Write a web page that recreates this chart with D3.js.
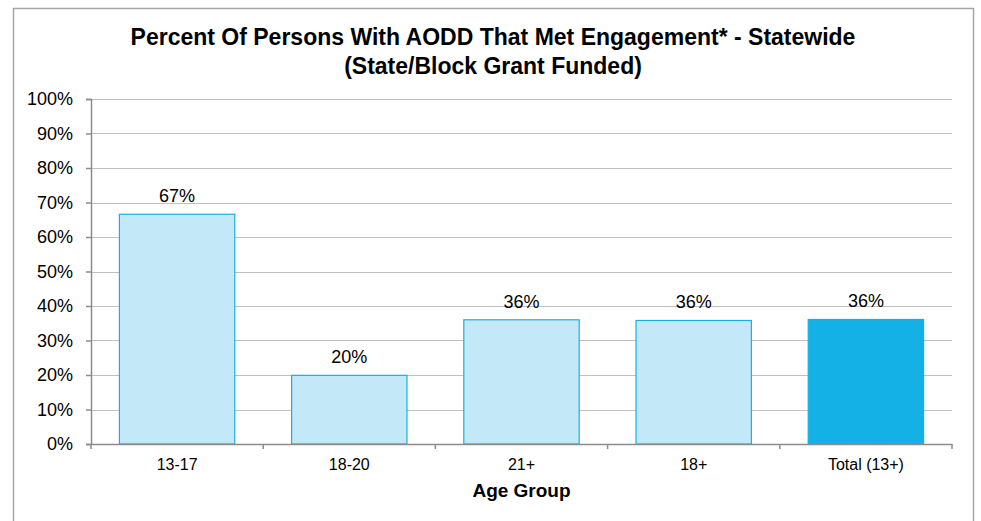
<!DOCTYPE html>
<html>
<head>
<meta charset="utf-8">
<script src="https://cdn.jsdelivr.net/npm/d3@7"></script>
<style>
  body { margin: 0; background: #fff; }
  text { font-family: "Liberation Sans", Arial, sans-serif; fill: #000; }
</style>
</head>
<body>
<svg id="chart" width="981" height="521"></svg>
<script>
var categories = ['13-17', '18-20', '21+', '18+', 'Total (13+)'];
var values = [66.6, 19.9, 36.0, 35.8, 36.1];
var valueLabels = ['67%', '20%', '36%', '36%', '36%'];
var yTicks = [0, 10, 20, 30, 40, 50, 60, 70, 80, 90, 100];

var svg = d3.select('#chart');

var margin = {left: 91, right: 29, top: 99, bottom: 77},
    width = 981 - margin.left - margin.right,
    height = 521 - margin.top - margin.bottom;

// outer frame
svg.append('rect')
    .attr('x', 13.5).attr('y', 8.5)
    .attr('width', 960).attr('height', 530)
    .attr('fill', 'none')
    .attr('stroke', '#a6a6a6')
    .attr('stroke-width', 1.5);

svg.append('text')
    .attr('x', 493).attr('y', 45)
    .attr('text-anchor', 'middle')
    .style('font-size', '23px').style('font-weight', 'bold')
    .text('Percent Of Persons With AODD That Met Engagement* - Statewide');
svg.append('text')
    .attr('x', 493).attr('y', 74)
    .attr('text-anchor', 'middle')
    .style('font-size', '23px').style('font-weight', 'bold')
    .text('(State/Block Grant Funded)');

var g = svg.append('g')
    .attr('transform', 'translate(' + margin.left + ',' + margin.top + ')');

var x = d3.scaleBand()
    .domain(categories)
    .range([0, width])
    .paddingInner(0.33)
    .paddingOuter(0.165);

var y = d3.scaleLinear()
    .domain([0, 100])
    .range([height, 0]);

// gridlines
g.selectAll('.grid')
    .data(yTicks.slice(1))
  .enter().append('line')
    .attr('x1', 0).attr('x2', width)
    .attr('y1', function(d) { return Math.round(y(d)) + 0.5; })
    .attr('y2', function(d) { return Math.round(y(d)) + 0.5; })
    .attr('stroke', '#c0c0c0')
    .attr('stroke-width', 1.2);

// bars
g.selectAll('.bar')
    .data(values)
  .enter().append('rect')
    .attr('x', function(d, i) { return x(categories[i]); })
    .attr('y', function(d) { return y(d); })
    .attr('width', x.bandwidth())
    .attr('height', function(d) { return height - y(d); })
    .attr('fill', function(d, i) { return i == 4 ? '#14b1e7' : '#c3e9f8'; })
    .attr('stroke', '#14b1e7')
    .attr('stroke-width', 1.2);

g.selectAll('.val')
    .data(values)
  .enter().append('text')
    .attr('x', function(d, i) { return x(categories[i]) + x.bandwidth() / 2; })
    .attr('y', function(d) { return y(d) - 12; })
    .attr('text-anchor', 'middle')
    .style('font-size', '18px')
    .text(function(d, i) { return valueLabels[i]; });

// y axis
var yAxis = g.append('g')
    .call(d3.axisLeft(y).tickValues(yTicks).tickSize(5).tickPadding(13)
      .tickFormat(function(d) { return d + '%'; }));
yAxis.select('.domain').attr('stroke', '#8c8c8c').attr('stroke-width', 1.5);
yAxis.selectAll('.tick line').attr('stroke', '#8c8c8c').attr('stroke-width', 1.5);
yAxis.selectAll('.tick text').style('font-size', '18px').attr('fill', '#000');

// x axis
var xAxis = g.append('g')
    .attr('transform', 'translate(0,' + height + ')')
    .call(d3.axisBottom(x).tickSize(0).tickPadding(15));
xAxis.select('.domain').attr('stroke', '#8c8c8c').attr('stroke-width', 1.5);
xAxis.selectAll('.tick text').style('font-size', '16px').attr('fill', '#000');

var bounds = d3.range(categories.length + 1).map(function(i) { return i * x.step(); });
xAxis.selectAll('.sep')
    .data(bounds)
  .enter().append('line')
    .attr('x1', function(d) { return d; })
    .attr('x2', function(d) { return d; })
    .attr('y1', 0).attr('y2', 5)
    .attr('stroke', '#8c8c8c')
    .attr('stroke-width', 1.5);

svg.append('text')
    .attr('x', margin.left + width / 2).attr('y', 497)
    .attr('text-anchor', 'middle')
    .style('font-size', '19px').style('font-weight', 'bold')
    .text('Age Group');
</script>
</body>
</html>
